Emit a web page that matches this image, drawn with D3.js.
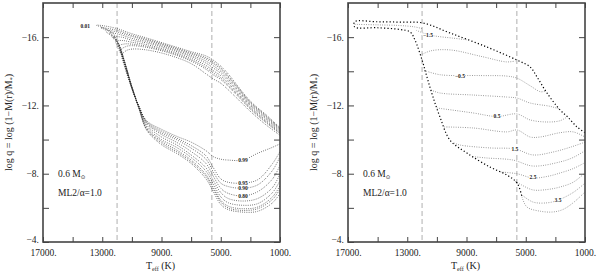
<!DOCTYPE html>
<html>
<head>
<meta charset="utf-8">
<script src="https://cdn.jsdelivr.net/npm/d3@7"></script>
<style>
  body { margin: 0; background: #fff; }
  text { font-family: "Liberation Serif", "Times New Roman", serif; fill: #222; }
</style>
</head>
<body>
<div id="chart"></div>
<script>
// Axis ticks
const xTicks = [17000, 15000, 13000, 11000, 9000, 7000, 5000, 3000, 1000];
const xLabels = [17000, 13000, 9000, 5000, 1000];
const yTicks = [-16, -14, -12, -10, -8, -6, -4];
const yLabels = [-16, -12, -8, -4];
const dashedTeff = [12000, 5600];

// Left panel: contours of the fraction of flux carried by convection [Teff, log q]
const flux001 = [[1000,-10.7],[1500,-11.1],[2000,-11.5],[2500,-11.85],[3000,-12.25],[3500,-12.75],[4000,-13.3],[4500,-13.85],[5000,-14.3],[5500,-14.65],[6000,-14.9],[7000,-15.15],[8500,-15.55],[10000,-15.95],[11000,-16.2],[12000,-16.5],[12800,-16.65],[13400,-16.7],
  [12700,-16.45],[12000,-15.7],[11500,-14.4],[11000,-13.1],[10500,-11.75],[10000,-10.55],[9000,-9.7],[8000,-9.2],[7000,-8.6],[6000,-7.7],[5500,-6.95],[5000,-6.2],[4500,-5.9],[3500,-5.75],[2500,-5.8],[1500,-6.3],[1000,-6.85]];
const flux01 = [[1000,-10.65],[2000,-11.44],[3000,-12.19],[4000,-13.22],[5000,-14.2],[5500,-14.54],[6000,-14.8],[7000,-15.08],[8500,-15.49],[10000,-15.88],[11000,-16.11],[12000,-16.4],[13100,-16.55],
  [12300,-16.25],[12000,-15.75],[11500,-14.5],[11000,-13.1],[10500,-11.75],[10000,-10.6],[9000,-9.8],[8000,-9.3],[7000,-8.7],[6000,-7.85],[5500,-7.1],[5000,-6.35],[4500,-6.0],[3500,-5.85],[2500,-5.95],[1500,-6.5],[1000,-7.1]];
const flux02 = [[1000,-10.62],[2000,-11.39],[3000,-12.14],[4000,-13.16],[5000,-14.12],[5500,-14.45],[6000,-14.72],[7000,-15.02],[8500,-15.44],[10000,-15.82],[11000,-16.04],[12000,-16.3],[12800,-16.4],
  [12000,-15.75],[11500,-14.55],[11000,-13.1],[10500,-11.8],[10000,-10.65],[9000,-9.9],[8000,-9.4],[7000,-8.8],[6000,-7.95],[5500,-7.2],[5000,-6.45],[4500,-6.1],[3500,-5.95],[2500,-6.05],[1500,-6.65],[1000,-7.3]];
const flux04 = [[1000,-10.57],[2000,-11.32],[3000,-12.07],[4000,-13.06],[5000,-14.0],[5500,-14.32],[6000,-14.6],[7000,-14.94],[8500,-15.37],[10000,-15.74],[11000,-15.93],[11800,-16.15],[12500,-16.25],
  [12000,-15.8],[11500,-14.6],[11000,-13.1],[10500,-11.8],[10000,-10.75],[9000,-10.0],[8000,-9.55],[7000,-8.95],[6000,-8.15],[5500,-7.4],[5000,-6.65],[4500,-6.3],[3500,-6.15],[2500,-6.25],[1500,-6.9],[1000,-7.6]];
const flux06 = [[1000,-10.51],[2000,-11.25],[3000,-12.0],[4000,-12.96],[5000,-13.88],[5500,-14.19],[6000,-14.48],[7000,-14.86],[8500,-15.3],[10000,-15.66],[11000,-15.82],[11700,-16.0],[12300,-16.0],
  [11900,-15.6],[11500,-14.6],[11000,-13.0],[10500,-11.85],[10000,-10.85],[9000,-10.15],[8000,-9.7],[7000,-9.1],[6000,-8.35],[5500,-7.6],[5000,-6.9],[4500,-6.55],[3500,-6.4],[2500,-6.55],[1500,-7.2],[1000,-8.0]];
const flux08 = [[1000,-10.45],[2000,-11.16],[3000,-11.91],[4000,-12.85],[5000,-13.74],[5500,-14.03],[6000,-14.34],[7000,-14.76],[8500,-15.21],[10000,-15.56],[11000,-15.7],[11600,-15.8],[12100,-15.75],
  [11800,-15.3],[11500,-14.55],[11000,-13.0],[10500,-11.85],[10000,-10.95],[9000,-10.3],[8000,-9.85],[7000,-9.3],[6000,-8.6],[5500,-7.85],[5000,-7.15],[4500,-6.85],[3500,-6.7],[2500,-6.95],[1500,-7.7],[1000,-8.5]];
const flux09 = [[1000,-10.39],[2000,-11.09],[3000,-11.84],[4000,-12.76],[5000,-13.62],[5500,-13.9],[6000,-14.22],[7000,-14.67],[8500,-15.14],[10000,-15.47],[11000,-15.59],[11500,-15.6],[11950,-15.45],
  [11700,-15.0],[11500,-14.45],[11000,-13.0],[10500,-11.9],[10000,-11.0],[9000,-10.4],[8000,-10.0],[7000,-9.5],[6000,-8.85],[5500,-8.1],[5000,-7.45],[4500,-7.25],[3500,-7.15],[2500,-7.35],[1500,-8.2],[1000,-9.0]];
const flux095 = [[1000,-10.35],[2000,-11.03],[3000,-11.78],[4000,-12.68],[5000,-13.52],[5500,-13.79],[6000,-14.12],[7000,-14.6],[8500,-15.08],[10000,-15.4],[11000,-15.5],[11400,-15.45],[11800,-15.2],
  [11600,-14.8],[11500,-14.4],[11000,-13.0],[10500,-11.9],[10000,-11.05],[9000,-10.5],[8000,-10.1],[7000,-9.65],[6000,-9.05],[5500,-8.35],[5000,-7.7],[4500,-7.5],[3500,-7.45],[2500,-7.65],[1500,-8.6],[1000,-9.3]];
const flux099 = [[1000,-10.25],[2000,-10.9],[3000,-11.65],[4000,-12.5],[5000,-13.3],[5500,-13.55],[6000,-13.85],[7000,-14.45],[8500,-14.95],[10000,-15.25],[11000,-15.3],[11400,-15.2],[11670,-14.95],
  [11500,-14.3],[11000,-13.0],[10500,-11.9],[10000,-11.1],[9000,-10.6],[8000,-10.2],[7000,-9.85],[6000,-9.35],[5500,-9.0],[5000,-8.85],[4500,-8.8],[3500,-8.8],[2500,-9.2],[1500,-9.55],[1000,-9.75]];
const fluxLabels = [["0.01", 14150, -16.66], ["0.99", 3500, -8.8], ["0.95", 3500, -7.47], ["0.90", 3500, -7.16], ["0.80", 3500, -6.7]];

// Right panel: convection zone boundary and labelled contours
const zoneBoundary = [[1000,-10.4],[1550,-10.75],[2200,-11.35],[2700,-11.75],[3570,-12.73],[4240,-13.67],[4700,-14.25],[5600,-14.66],[7620,-15.42],[10100,-16.24],[11940,-16.83],[13500,-16.88],[15000,-16.9],[16550,-16.9],
  [16550,-16.6],[15000,-16.55],[13500,-16.45],[12800,-16.3],[12480,-15.83],[12000,-14.66],[11670,-13.67],[11260,-12.49],[10790,-11.32],[10115,-9.97],[8970,-9.21],[7415,-8.39],[6270,-7.92],[5590,-7.46],[5255,-6.64]];
const contourM20 = [[16550,-16.75],[15000,-16.72],[13500,-16.68],[12500,-16.6],[12000,-16.5]];
const contourM15 = [[12400,-16.4],[11600,-16.15],[11000,-16.05],[10000,-15.95],[9000,-15.85]];
const contourM10 = [[12100,-14.95],[11400,-15.2],[10100,-15.25],[7900,-14.85],[6300,-14.55],[5700,-14.6]];
const contourM05 = [[11850,-14.05],[10800,-13.8],[8100,-13.75],[6300,-13.72],[5600,-13.6],[4700,-13.15],[4000,-12.8],[3650,-12.85]];
const contour00 = [[11400,-12.9],[10800,-12.73],[8560,-12.61],[6270,-12.49],[5590,-12.43],[4700,-12.14],[3370,-11.95],[2750,-11.8]];
const contour05 = [[11000,-11.85],[8560,-11.56],[6940,-11.35],[5600,-11.5],[4700,-11.15],[3570,-11.03],[2700,-11.1],[2250,-11.3]];
const contour10 = [[10500,-10.74],[8560,-10.68],[6270,-10.45],[5590,-10.56],[4700,-10.15],[4040,-10.15],[2700,-10.4],[1800,-10.45],[1000,-10.15]];
const contour15 = [[9850,-9.8],[9440,-9.68],[7415,-9.51],[5730,-9.45],[4510,-9.1],[3160,-9.27],[2000,-9.55],[1000,-9.85]];
const contour20 = [[8570,-9.0],[7620,-8.92],[5860,-8.8],[4510,-8.45],[2690,-8.69],[1800,-8.95],[1000,-9.35]];
const contour25 = [[6700,-8.1],[5600,-8.0],[4510,-7.75],[3500,-7.85],[2690,-8.04],[1800,-8.3],[1000,-8.65]];
const contour30 = [[5720,-7.55],[5300,-7.35],[4510,-7.05],[3500,-7.08],[2690,-7.22],[1800,-7.5],[1000,-8.05]];
const contour35 = [[5320,-6.8],[4510,-6.34],[3500,-6.3],[2800,-6.46],[1800,-6.9],[1000,-7.45]];
const contour40 = [[5255,-6.64],[4920,-6.05],[4000,-5.8],[3160,-5.76],[2500,-5.9],[1810,-6.29],[1000,-6.93]];
const contourLabels = [["\u22121.5", 11600, -16.13], ["\u22120.5", 9440, -13.72], ["0.5", 6940, -11.35], ["1.5", 5730, -9.45], ["2.5", 4510, -7.78], ["3.5", 2825, -6.46]];

const fluxCurves = [flux001, flux01, flux02, flux04, flux06, flux08, flux09, flux095, flux099];
const contours = [contourM20, contourM15, contourM10, contourM05, contour00, contour05, contour10,
  contour15, contour20, contour25, contour30, contour35, contour40];

const width = 600, height = 280;
const panelW = 237;
const y = d3.scaleLinear().domain([-18, -4]).range([3, 242]);

const svg = d3.create("svg")
    .attr("width", width)
    .attr("height", height)
    .attr("viewBox", [0, 0, width, height]);

function drawPanel(left, id, draw) {
    const x = d3.scaleLinear().domain([17000, 1000]).range([left, left + panelW]);
    const g = svg.append("g");

    g.append("clipPath").attr("id", id)
      .append("rect")
        .attr("x", left).attr("y", y.range()[0])
        .attr("width", panelW).attr("height", y.range()[1] - y.range()[0]);

    // dashed reference temperatures
    g.append("g").selectAll("line")
      .data(dashedTeff)
      .join("line")
        .attr("x1", d => x(d)).attr("x2", d => x(d))
        .attr("y1", y.range()[0]).attr("y2", y.range()[1])
        .attr("stroke", "#999")
        .attr("stroke-width", 0.8)
        .attr("stroke-dasharray", "5,3");

    const line = d3.line()
        .x(d => x(d[0]))
        .y(d => y(d[1]))
        .curve(d3.curveCatmullRom.alpha(0.5));

    const plot = g.append("g").attr("clip-path", `url(#${id})`);
    draw(plot, x, line);

    // axes, ticks pointing inwards
    const bottom = d3.axisBottom(x).tickValues(xTicks).tickSize(-5).tickSizeOuter(0).tickPadding(7)
        .tickFormat(d => xLabels.includes(d) ? d + "." : "");
    const top = d3.axisTop(x).tickValues(xTicks).tickSize(-5).tickSizeOuter(0).tickFormat("");
    const leftAx = d3.axisLeft(y).tickValues(yTicks).tickSize(-6).tickSizeOuter(0).tickPadding(4)
        .tickFormat(d => yLabels.includes(d) ? "\u2212" + Math.abs(d) + "." : "");
    const rightAx = d3.axisRight(y).tickValues(yTicks).tickSize(-6).tickSizeOuter(0).tickFormat("");

    [[bottom, `translate(0,${y.range()[1]})`], [top, `translate(0,${y.range()[0]})`],
     [leftAx, `translate(${left},0)`], [rightAx, `translate(${left + panelW},0)`]].forEach(([ax, tr]) => {
        const a = g.append("g").attr("transform", tr).call(ax);
        a.select(".domain").remove();
        a.selectAll("line").attr("stroke", "#444");
        a.selectAll("text").attr("font-size", 9.5).attr("fill", "#222")
          .attr("font-family", "'Liberation Serif', serif");
    });
    // the lowest y label sits a little above the corner
    g.selectAll("text").filter(d => d === -4).attr("dy", "0.1em");

    g.append("rect")
        .attr("x", left).attr("y", y.range()[0])
        .attr("width", panelW).attr("height", y.range()[1] - y.range()[0])
        .attr("fill", "none")
        .attr("stroke", "#444")
        .attr("stroke-width", 1.6);

    // axis titles
    g.append("text")
        .attr("transform", `translate(${left - 31},${(y.range()[0] + y.range()[1]) / 2}) rotate(-90)`)
        .attr("text-anchor", "middle")
        .attr("font-size", 10)
        .text("log q = log (1\u2212M(r)/M")
      .append("tspan").attr("font-size", 6).attr("dy", 2).text("*")
      .append("tspan").attr("font-size", 10).attr("dy", -2).text(")");

    const xt = g.append("text")
        .attr("x", left + panelW / 2 - 1)
        .attr("y", 269)
        .attr("text-anchor", "middle")
        .attr("font-size", 10);
    xt.append("tspan").text("T");
    xt.append("tspan").attr("font-size", 6).attr("dy", 2).text("eff");
    xt.append("tspan").attr("dy", -2).text(" (K)");

    const m = g.append("text").attr("x", left + 15).attr("y", 177).attr("font-size", 9.5);
    m.append("tspan").text("0.6 M");
    m.append("tspan").attr("font-size", 5.5).attr("dy", 2).attr("font-family", "'DejaVu Sans', sans-serif").text("\u2299");
    g.append("text").attr("x", left + 15).attr("y", 196).attr("font-size", 9.5).text("ML2/\u03b1=1.0");
}

function addLabels(plot, x, labels) {
    plot.append("g").selectAll("text")
      .data(labels)
      .join("text")
        .attr("x", d => x(d[1]))
        .attr("y", d => y(d[2]))
        .attr("dy", "0.35em")
        .attr("text-anchor", "middle")
        .attr("font-size", 5.5)
        .attr("font-weight", "bold")
        .attr("stroke", "#fff")
        .attr("stroke-width", 1.5)
        .attr("paint-order", "stroke")
        .text(d => d[0]);
}

// Left panel
drawPanel(43, "clipL", (plot, x, line) => {
    plot.append("g")
        .attr("fill", "none")
        .attr("stroke", "#222")
        .attr("stroke-width", 0.75)
        .attr("stroke-dasharray", "0.8,1.4")
      .selectAll("path")
      .data(fluxCurves)
      .join("path")
        .attr("d", line);
    addLabels(plot, x, fluxLabels);
});

// Right panel
drawPanel(348, "clipR", (plot, x, line) => {
    plot.append("g")
        .attr("fill", "none")
        .attr("stroke", "#555")
        .attr("stroke-width", 0.7)
        .attr("stroke-dasharray", "0.8,1.5")
      .selectAll("path")
      .data(contours)
      .join("path")
        .attr("d", line);

    plot.append("path")
        .datum(zoneBoundary)
        .attr("fill", "none")
        .attr("stroke", "#000")
        .attr("stroke-width", 1.2)
        .attr("stroke-dasharray", "1.2,2.2")
        .attr("d", line);

    addLabels(plot, x, contourLabels);
});

document.getElementById("chart").appendChild(svg.node());
</script>
</body>
</html>
